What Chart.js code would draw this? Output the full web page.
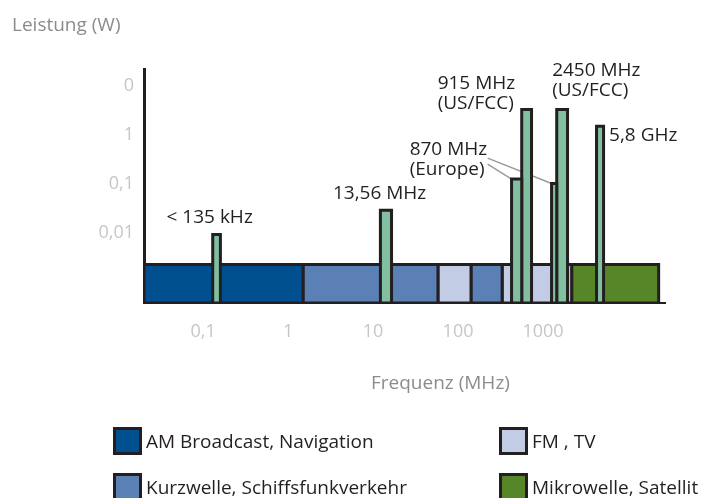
<!DOCTYPE html>
<html lang="de">
<head>
<meta charset="UTF-8" />
<title>Frequenzbereiche</title>
<script src="https://cdn.jsdelivr.net/npm/chart.js"></script>
<style>
  body { margin: 0; background: #fff; font-family: "Open Sans", sans-serif; }
  #wrap { position: relative; width: 707px; height: 498px; overflow: hidden; }
  #chart { position: absolute; left: 0; top: 0; }
  .title { position: absolute; color: #8c8c8c; font-size: 19px; line-height: 20px; white-space: nowrap; }
  #legend { position: absolute; left: 113px; top: 427px; display: grid;
            grid-template-rows: 28px 28px; grid-template-columns: 386px auto;
            grid-auto-flow: column; row-gap: 18px; }
  .leg { display: flex; align-items: center; font-size: 19px; color: #231f20; white-space: nowrap; }
  .leg .box { width: 23px; height: 22px; border: 3px solid #231f20; margin-right: 4px; flex: none; }
</style>
</head>
<body>
<div id="wrap">
  <canvas id="chart" width="707" height="498"></canvas>
  <div class="title" style="left:12px; top:14px;">Leistung (W)</div>
  <div class="title" style="left:371px; top:372px;">Frequenz (MHz)</div>
  <div id="legend"></div>
</div>

<script>
  // --- Daten ---
  const xTicks = [0.1, 1, 10, 100, 1000];            // MHz
  const yTicks = [0.01, 0.1, 1, 10];                 // W
  const yTickLabels = ['0,01', '0,1', '1', '0'];

  const xMin = 0.0202, xMax = 27200;
  const yMin = 0.000373, yMax = 22.2;

  // Frequenzbänder
  const bandNames  = ['AM Broadcast, Navigation', 'Kurzwelle, Schiffsfunkverkehr', 'FM , TV', 'Mikrowelle, Satellit'];
  const bandColors = ['#00508f', '#5b80b6', '#c2cce4', '#578628'];
  const bandFrom = [0.0202, 1.5, 58, 142, 330, 2170];
  const bandTo   = [1.5, 58, 142, 330, 2170, 22900];
  const bandType = [0, 1, 2, 1, 2, 3];
  const bandTop  = 0.00228;

  // RFID-Frequenzen (Balken)
  const barNames = ['< 135 kHz', '13,56 MHz', '870 MHz', '915 MHz', '870 MHz (2)', '2450 MHz', '5,8 GHz'];
  const barFrom  = [0.13, 12.2, 426, 561, 1259, 1448, 4258];
  const barTo    = [0.16, 16.5, 561, 732, 1448, 1941, 5150];
  const barPower = [0.0093, 0.029, 0.126, 3.3, 0.102, 3.3, 1.5];

  // Beschriftungen: Bezug auf Balken, Versatz in px
  const notes = [
    { bar: 0, lines: ['< 135 kHz'], dx: -50, dy: -17 },
    { bar: 1, lines: ['13,56 MHz'], dx: -53, dy: -17 },
    { bar: 2, lines: ['870 MHz', '(Europe)'], dx: -107, dy: -29 },
    { bar: 3, lines: ['915 MHz', '(US/FCC)'], dx: -89, dy: -26 },
    { bar: 5, lines: ['2450 MHz', '(US/FCC)'], dx: -10, dy: -39 },
    { bar: 6, lines: ['5,8 GHz'], dx: 9, dy: 9 }
  ];
  const leaders = [2, 4];   // Linien von "(Europe)" zu diesen Balken

  const edge = '#231f20';
  const barColor = '#82bfa0';

  function rect(x0, x1, y0, y1) {
    return [{x: x0, y: y0}, {x: x0, y: y1}, {x: x1, y: y1}, {x: x1, y: y0}, {x: x0, y: y0}];
  }

  function shape(data, color) {
    return {
      data: data, showLine: true, fill: 'shape', tension: 0,
      backgroundColor: color, borderColor: edge, borderWidth: 3,
      borderJoinStyle: 'miter', borderCapStyle: 'square',
      pointRadius: 0, pointHoverRadius: 0
    };
  }

  // erste Datensätze liegen oben -> Balken zuerst
  const datasets = [];
  barNames.forEach((n, i) => datasets.push(shape(rect(barFrom[i], barTo[i], yMin, barPower[i]), barColor)));
  bandFrom.forEach((f, i) => datasets.push(shape(rect(f, bandTo[i], yMin, bandTop), bandColors[bandType[i]])));

  const labelFont = '19px "Open Sans", sans-serif';

  const notesPlugin = {
    id: 'notes',
    beforeDatasetsDraw(chart) {
      const {ctx, scales: {x, y}} = chart;
      const n = notes.find(o => o.bar === 2);
      const ax = x.getPixelForValue(Math.sqrt(barFrom[2] * barTo[2])) + n.dx + 78;
      const ay = y.getPixelForValue(barPower[2]) + n.dy;
      ctx.save();
      ctx.strokeStyle = '#9a9a9a';
      ctx.lineWidth = 1.5;
      leaders.forEach((b, k) => {
        ctx.beginPath();
        ctx.moveTo(ax, ay + 14 + k * -6);
        ctx.lineTo(x.getPixelForValue(barFrom[b]), y.getPixelForValue(barPower[b]));
        ctx.stroke();
      });
      ctx.restore();
    },
    afterDatasetsDraw(chart) {
      const {ctx, scales: {x, y}} = chart;
      ctx.save();
      ctx.font = labelFont;
      ctx.fillStyle = edge;
      ctx.textAlign = 'left';
      ctx.textBaseline = 'middle';
      notes.forEach(n => {
        const cx = x.getPixelForValue(Math.sqrt(barFrom[n.bar] * barTo[n.bar]));
        const top = y.getPixelForValue(barPower[n.bar]);
        n.lines.forEach((t, k) => ctx.fillText(t, cx + n.dx, top + n.dy + k * 20));
      });
      ctx.restore();
    }
  };

  new Chart(document.getElementById('chart'), {
    type: 'scatter',
    data: { datasets: datasets },
    options: {
      responsive: false,
      devicePixelRatio: 1,
      animation: false,
      layout: { padding: { top: 69, right: 42, left: 0, bottom: 0 } },
      plugins: { legend: { display: false }, tooltip: { enabled: false } },
      scales: {
        x: {
          type: 'logarithmic', min: xMin, max: xMax,
          grid: { display: false, drawTicks: false },
          border: { display: true, color: edge, width: 2 },
          afterBuildTicks: s => { s.ticks = xTicks.map(v => ({ value: v })); },
          afterFit: s => { s.height = 195; },
          ticks: {
            autoSkip: false, maxRotation: 0, padding: 18, color: '#c6c6c6',
            font: { family: '"Open Sans", sans-serif', size: 18 },
            callback: v => String(v).replace('.', ',')
          }
        },
        y: {
          type: 'logarithmic', min: yMin, max: yMax,
          grid: { display: false, drawTicks: false },
          border: { display: true, color: edge, width: 3 },
          afterBuildTicks: s => { s.ticks = yTicks.map(v => ({ value: v })); },
          afterFit: s => { s.width = 144; },
          ticks: {
            autoSkip: false, padding: 10, color: '#c6c6c6',
            font: { family: '"Open Sans", sans-serif', size: 18 },
            callback: (v, i) => yTickLabels[i]
          }
        }
      }
    },
    plugins: [notesPlugin]
  });

  // Legende
  const legend = document.getElementById('legend');
  bandNames.forEach((name, i) => {
    const d = document.createElement('div');
    d.className = 'leg';
    d.innerHTML = '<span class="box" style="background:' + bandColors[i] + '"></span>' + name;
    legend.appendChild(d);
  });
</script>
</body>
</html>
